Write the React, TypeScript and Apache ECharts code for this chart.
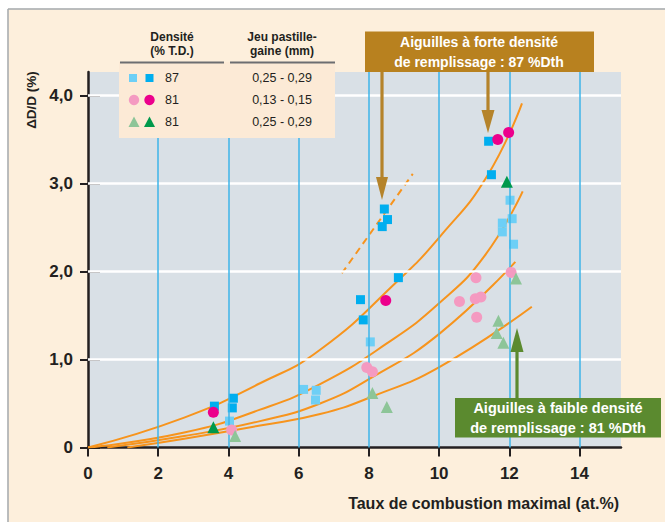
import React, { useEffect, useRef } from "react";
import * as echarts from "echarts";

// ---- axis ticks ----
const xTicks = [0, 2, 4, 6, 8, 10, 12, 14];
const yTicks = [0, 1, 2, 3, 4];
const xGridLines = [2, 4, 6, 8, 10, 12, 14];
const yGridLines = [1, 2, 3, 4];

// ---- data: density 87 %TD, gap 0.25-0.29 ----
const sqLight87 = [
  [4.03, 0.3], [6.14, 0.66], [6.5, 0.65], [6.48, 0.54], [8.04, 1.2],
  [12.02, 2.81], [12.08, 2.6], [11.8, 2.55], [11.8, 2.45], [12.12, 2.31],
];
const sqDark87 = [
  [3.6, 0.47], [4.14, 0.56], [4.11, 0.45], [7.76, 1.68], [7.84, 1.45],
  [8.84, 1.93], [8.38, 2.51], [8.53, 2.59], [8.44, 2.71], [11.41, 3.48], [11.49, 3.1],
];
// ---- density 81, gap 0.13-0.15 ----
const ciLight81 = [
  [4.09, 0.2], [7.94, 0.91], [8.1, 0.86], [10.58, 1.66], [11.03, 1.69],
  [11.19, 1.71], [11.07, 1.48], [11.05, 1.93], [12.05, 1.99],
];
const ciDark81 = [[3.57, 0.4], [8.48, 1.67], [11.67, 3.5], [11.98, 3.58]];
// ---- density 81, gap 0.25-0.29 ----
const trLight81 = [
  [4.19, 0.13], [8.1, 0.62], [8.51, 0.46], [11.69, 1.44], [11.64, 1.3],
  [11.83, 1.19], [12.19, 1.92],
];
const trDark81 = [[3.57, 0.23], [11.93, 3.02]];

// ---- trend curves ----
const curve1 = [[0, 0], [2.74, 0.34], [4.9, 0.73], [6.61, 1.11], [8.84, 1.9], [10.03, 2.4], [11.36, 3.08], [12.36, 3.91]];
const curve2 = [[0, 0], [2.74, 0.17], [4.9, 0.43], [6.61, 0.72], [8.5, 1.18], [10.03, 1.65], [11.3, 2.18], [12.38, 2.91]];
const curve3 = [[0.55, 0], [2.74, 0.13], [4.9, 0.3], [6.61, 0.5], [8.1, 0.8], [10.03, 1.3], [12.17, 2.11]];
const curve4 = [[1.12, 0], [2.74, 0.1], [4.9, 0.25], [6.61, 0.38], [8.1, 0.58], [10.03, 0.92], [12.64, 1.6]];
const dashed = [[7.23, 1.98], [9.25, 3.11]];

// ---- legend rows ----
const legendDensity = ["87", "81", "81"];
const legendGap = ["0,25 - 0,29", "0,13 - 0,15", "0,25 - 0,29"];

const FONT = '"Liberation Sans", Arial, Helvetica, sans-serif';
const DARK = "#231F20";
const C = {
  sqL: "#6DCFF6", sqD: "#00AEEF", ciL: "#F49AC1", ciD: "#EC008C",
  trL: "#8DC598", trD: "#00994C", orange: "#F7941D", brown: "#B8811F", green: "#5B8A2F",
};

function txt(x: number, y: number, text: string, font: string, fill: string, align = "center", extra: any = {}) {
  return {
    type: "text", x, y, z: 100, ...extra,
    style: { text, font, fill, textAlign: align, align, textVerticalAlign: "middle", verticalAlign: "middle" },
  };
}

function arrowDown(x: number, yTop: number, tip: number, headH: number, headW: number, color: string) {
  return [
    { type: "rect", z: 100, shape: { x: x - 1.6, y: yTop, width: 3.2, height: tip - headH - yTop + 2 }, style: { fill: color } },
    { type: "polygon", z: 100, shape: { points: [[x - headW / 2, tip - headH], [x + headW / 2, tip - headH], [x, tip]] }, style: { fill: color } },
  ];
}
function arrowUp(x: number, yBottom: number, tip: number, headH: number, headW: number, color: string) {
  return [
    { type: "rect", z: 100, shape: { x: x - 1.6, y: tip + headH - 2, width: 3.2, height: yBottom - tip - headH + 2 }, style: { fill: color } },
    { type: "polygon", z: 100, shape: { points: [[x - headW / 2, tip + headH], [x + headW / 2, tip + headH], [x, tip]] }, style: { fill: color } },
  ];
}

export default function App() {
  const ref = useRef<HTMLDivElement>(null);
  useEffect(() => {
    if (!ref.current) return;
    const chart = echarts.init(ref.current, null, { renderer: "svg" });

    const curveSeries = (d: number[][]) => ({
      type: "line", data: d, smooth: 0.5, showSymbol: false, symbol: "none",
      lineStyle: { color: C.orange, width: 2 }, z: 3, silent: true,
    });
    const scatter = (d: number[][], symbol: string, size: number, color: string, z: number) => ({
      type: "scatter", data: d, symbol, symbolSize: size, itemStyle: { color, opacity: 1 }, z, silent: true,
    });

    const graphic: any[] = [];
    // page margin & frame
    graphic.push({ type: "rect", z: 90, shape: { x: 0, y: 0, width: 665, height: 8.5 }, style: { fill: "#ffffff" } });
    graphic.push({ type: "rect", z: 90, shape: { x: 0, y: 0, width: 7.5, height: 522 }, style: { fill: "#ffffff" } });
    graphic.push({ type: "line", z: 91, shape: { x1: 8, y1: 9, x2: 665, y2: 9 }, style: { stroke: "#A3AAAF", lineWidth: 1.5 } });
    graphic.push({ type: "line", z: 91, shape: { x1: 8, y1: 9, x2: 8, y2: 522 }, style: { stroke: "#A3AAAF", lineWidth: 1.5 } });

    // legend table
    graphic.push({ type: "rect", z: 100, shape: { x: 119, y: 62, width: 216, height: 76 }, style: { fill: "#FCEAD6" } });
    graphic.push({ type: "line", z: 101, shape: { x1: 120, y1: 62.5, x2: 224, y2: 62.5 }, style: { stroke: "#6D6E71", lineWidth: 2 } });
    graphic.push({ type: "line", z: 101, shape: { x1: 230, y1: 62.5, x2: 335, y2: 62.5 }, style: { stroke: "#6D6E71", lineWidth: 2 } });
    const hf = `bold 12px ${FONT}`;
    graphic.push(txt(172, 37, "Densité", hf, DARK));
    graphic.push(txt(172, 51, "(% T.D.)", hf, DARK));
    graphic.push(txt(282, 37, "Jeu pastille-", hf, DARK));
    graphic.push(txt(282, 51, "gaine (mm)", hf, DARK));
    const rowY = [78, 100, 122];
    graphic.push({ type: "rect", z: 101, shape: { x: 129, y: 74, width: 8, height: 8 }, style: { fill: C.sqL } });
    graphic.push({ type: "rect", z: 101, shape: { x: 145.5, y: 74, width: 8, height: 8 }, style: { fill: C.sqD } });
    graphic.push({ type: "circle", z: 101, shape: { cx: 134, cy: 100, r: 5.2 }, style: { fill: C.ciL } });
    graphic.push({ type: "circle", z: 101, shape: { cx: 149.5, cy: 100, r: 5.2 }, style: { fill: C.ciD } });
    graphic.push({ type: "polygon", z: 101, shape: { points: [[134, 116.5], [139.5, 127], [128.5, 127]] }, style: { fill: C.trL } });
    graphic.push({ type: "polygon", z: 101, shape: { points: [[149.5, 116.5], [155, 127], [144, 127]] }, style: { fill: C.trD } });
    const rf = `12.5px ${FONT}`;
    legendDensity.forEach((t, i) => graphic.push(txt(165, rowY[i], t, rf, DARK, "left")));
    legendGap.forEach((t, i) => graphic.push(txt(282, rowY[i], t, rf, DARK)));

    // annotation boxes
    graphic.push({ type: "rect", z: 100, shape: { x: 365, y: 31.5, width: 229, height: 40.5 }, style: { fill: C.brown } });
    graphic.push(txt(479, 41.5, "Aiguilles à forte densité", `bold 14px ${FONT}`, "#ffffff"));
    graphic.push(txt(479, 61.5, "de remplissage : 87 %Dth", `bold 14px ${FONT}`, "#ffffff"));
    graphic.push({ type: "rect", z: 100, shape: { x: 455, y: 398, width: 206, height: 39.5 }, style: { fill: C.green } });
    graphic.push(txt(558, 408, "Aiguilles à faible densité", `bold 14.5px ${FONT}`, "#ffffff"));
    graphic.push(txt(558, 427.5, "de remplissage : 81 %Dth", `bold 14.5px ${FONT}`, "#ffffff"));

    // arrows
    graphic.push(...arrowDown(382, 72, 200, 23, 12, "#B5832A"));
    graphic.push(...arrowDown(488, 72, 133, 23, 13, "#B5832A"));
    graphic.push(...arrowUp(517, 398, 328, 24, 13, C.green));

    // axis titles
    graphic.push(txt(619, 503, "Taux de combustion maximal (at.%)", `bold 16px ${FONT}`, DARK, "right"));
    graphic.push(txt(31, 100, "ΔD/D (%)", `bold 13.5px ${FONT}`, DARK, "center", { rotation: Math.PI / 2 }));

    const option: any = {
      animation: false,
      backgroundColor: "#FDEFDC",
      textStyle: { fontFamily: FONT },
      grid: { left: 88, right: 44, top: 72, bottom: 74.5, show: true, backgroundColor: "#D9E0E6", borderWidth: 0 },
      xAxis: {
        type: "value", min: 0, max: 15.18, interval: 2,
        axisLine: { show: true, onZero: false, lineStyle: { color: DARK, width: 2.5 } },
        axisTick: { show: true, length: 9, lineStyle: { color: DARK, width: 2 }, customValues: xTicks },
        axisLabel: { customValues: xTicks, color: DARK, fontSize: 17, fontWeight: "bold", margin: 17, fontFamily: FONT },
        splitLine: { show: false },
      },
      yAxis: [
        {
          type: "value", min: 0, max: 4.267, interval: 1, position: "left",
          axisLine: { show: true, onZero: false, lineStyle: { color: DARK, width: 2.5 } },
          axisTick: { show: true, length: 8, lineStyle: { color: DARK, width: 2 }, customValues: yTicks },
          axisLabel: {
            customValues: yTicks, color: DARK, fontSize: 17, fontWeight: "bold", margin: 15, fontFamily: FONT,
            formatter: (v: number) => (v === 0 ? "0" : v.toFixed(1).replace(".", ",")),
          },
          splitLine: { show: false },
        },
        {
          type: "value", min: 0, max: 4.267, interval: 1, position: "left",
          axisLine: { show: false },
          axisTick: { show: true, inside: true, length: 12, lineStyle: { color: DARK, width: 2 }, customValues: yTicks },
          axisLabel: { show: false },
          splitLine: { show: false },
        },
      ],
      series: [
        {
          type: "scatter", data: [], z: 1, silent: true,
          markLine: {
            silent: true, symbol: ["none", "none"], label: { show: false }, animation: false,
            lineStyle: { color: "#ffffff", width: 2.5, type: "solid" },
            data: yGridLines.map((v) => ({ yAxis: v })),
          },
        },
        {
          type: "scatter", data: [], z: 1, silent: true,
          markLine: {
            silent: true, symbol: ["none", "none"], label: { show: false }, animation: false,
            lineStyle: { color: "#3DB5E8", width: 1.5, type: "solid" },
            data: xGridLines.map((v) => ({ xAxis: v })),
          },
        },
        curveSeries(curve1),
        curveSeries(curve2),
        curveSeries(curve3),
        curveSeries(curve4),
        {
          type: "line", data: dashed, showSymbol: false, symbol: "none", silent: true, z: 3,
          lineStyle: { color: C.orange, width: 2, type: [7, 5] },
        },
        scatter(sqLight87, "rect", 9, C.sqL, 4),
        scatter(sqDark87, "rect", 9, C.sqD, 4),
        scatter(ciLight81, "circle", 11, C.ciL, 5),
        scatter(ciDark81, "circle", 11, C.ciD, 5),
        scatter(trLight81, "triangle", 12, C.trL, 6),
        scatter(trDark81, "triangle", 12, C.trD, 6),
      ],
      graphic,
    };
    chart.setOption(option);
    return () => chart.dispose();
  }, []);

  return (
    <div
      ref={ref}
      style={{ position: "fixed", left: 0, top: 0, width: "665px", height: "522px" }}
    />
  );
}
